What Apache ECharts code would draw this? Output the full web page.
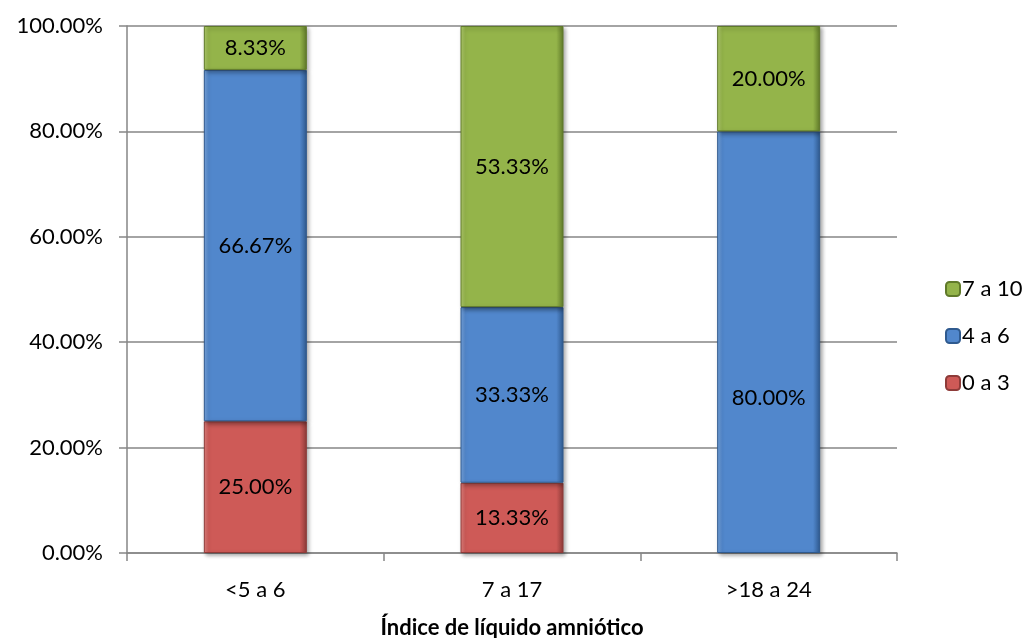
<!DOCTYPE html>
<html>
<head>
<meta charset="utf-8">
<script src="https://cdn.jsdelivr.net/npm/echarts@6/dist/echarts.min.js"></script>
<style>
  html, body { margin: 0; padding: 0; background: #fff; }
  #chart { width: 1029px; height: 638px; }
</style>
</head>
<body>
<div id="chart"></div>
<script>
// Categories of amniotic fluid index and share of each score group (%)
const categories = ['<5 a 6', '7 a 17', '>18 a 24'];
const serie0a3 = [25.00, 13.33, 0];
const serie4a6 = [66.67, 33.33, 80.00];
const serie7a10 = [8.33, 53.33, 20.00];
const yTicks = [0, 20, 40, 60, 80, 100];

const FONT = 'Lato, "Open Sans", sans-serif';
const FS = 22;

// Soft bevelled fill: lighter left rim, darker right rim
function bevel(base, light, dark) {
  return {
    color: {
      type: 'linear', x: 0, y: 0, x2: 1, y2: 0,
      colorStops: [
        { offset: 0, color: light },
        { offset: 0.05, color: base },
        { offset: 0.93, color: base },
        { offset: 1, color: dark }
      ]
    },
    borderColor: dark,
    borderWidth: 1,
    shadowColor: 'rgba(0,0,0,0.35)',
    shadowBlur: 4,
    shadowOffsetX: 2,
    shadowOffsetY: 2
  };
}

// Empty segments are left out of the stack
const seg = arr => arr.map(v => (v > 0 ? v : '-'));

const label = {
  show: true,
  position: 'inside',
  color: '#000',
  fontFamily: FONT,
  fontSize: FS,
  formatter: p => p.value.toFixed(2) + '%'
};

const chart = echarts.init(document.getElementById('chart'));
chart.setOption({
  animation: false,
  textStyle: { fontFamily: FONT },
  grid: { left: 127, right: 132, top: 26, bottom: 85, containLabel: false, outerBoundsMode: 'none' },
  legend: {
    data: ['7 a 10', '4 a 6', '0 a 3'],
    orient: 'vertical',
    left: 940,
    top: 273,
    itemGap: 25,
    itemWidth: 14,
    itemHeight: 14,
    textStyle: { fontSize: FS, color: '#000', fontFamily: FONT, padding: [0, 0, 0, -3] }
  },
  xAxis: {
    type: 'category',
    data: categories,
    name: 'Índice de líquido amniótico',
    nameLocation: 'middle',
    nameGap: 64,
    nameTextStyle: { fontSize: FS, fontWeight: 'bold', color: '#000', fontFamily: FONT },
    axisLine: { lineStyle: { color: '#868686', width: 1.5 } },
    axisTick: { show: true, length: 8, lineStyle: { color: '#868686', width: 1.5 } },
    axisLabel: { fontSize: FS, color: '#000', margin: 26, fontFamily: FONT }
  },
  yAxis: {
    type: 'value',
    min: yTicks[0],
    max: yTicks[yTicks.length - 1],
    interval: 20,
    axisLine: { show: true, lineStyle: { color: '#868686', width: 1.5 } },
    axisTick: { show: true, length: 8, lineStyle: { color: '#868686', width: 1.5 } },
    splitLine: { lineStyle: { color: '#868686', width: 1.5 } },
    axisLabel: {
      fontSize: FS, color: '#000', margin: 24, fontFamily: FONT,
      formatter: v => v.toFixed(2) + '%'
    }
  },
  series: [
    {
      name: '0 a 3', type: 'bar', stack: 'total', barWidth: 103,
      data: seg(serie0a3),
      itemStyle: bevel('#CE5A57', '#E58380', '#8E3B39'),
      label: label
    },
    {
      name: '4 a 6', type: 'bar', stack: 'total', barWidth: 103,
      data: seg(serie4a6).map((v, i) => i === 2 ? { value: v, label: { offset: [0, 56] } } : v),
      itemStyle: bevel('#5187CC', '#7AA8E2', '#2F5A8F'),
      label: label
    },
    {
      name: '7 a 10', type: 'bar', stack: 'total', barWidth: 103,
      data: seg(serie7a10),
      itemStyle: bevel('#94B44A', '#B3CF6E', '#607A2A'),
      label: label
    }
  ]
});
</script>
</body>
</html>
